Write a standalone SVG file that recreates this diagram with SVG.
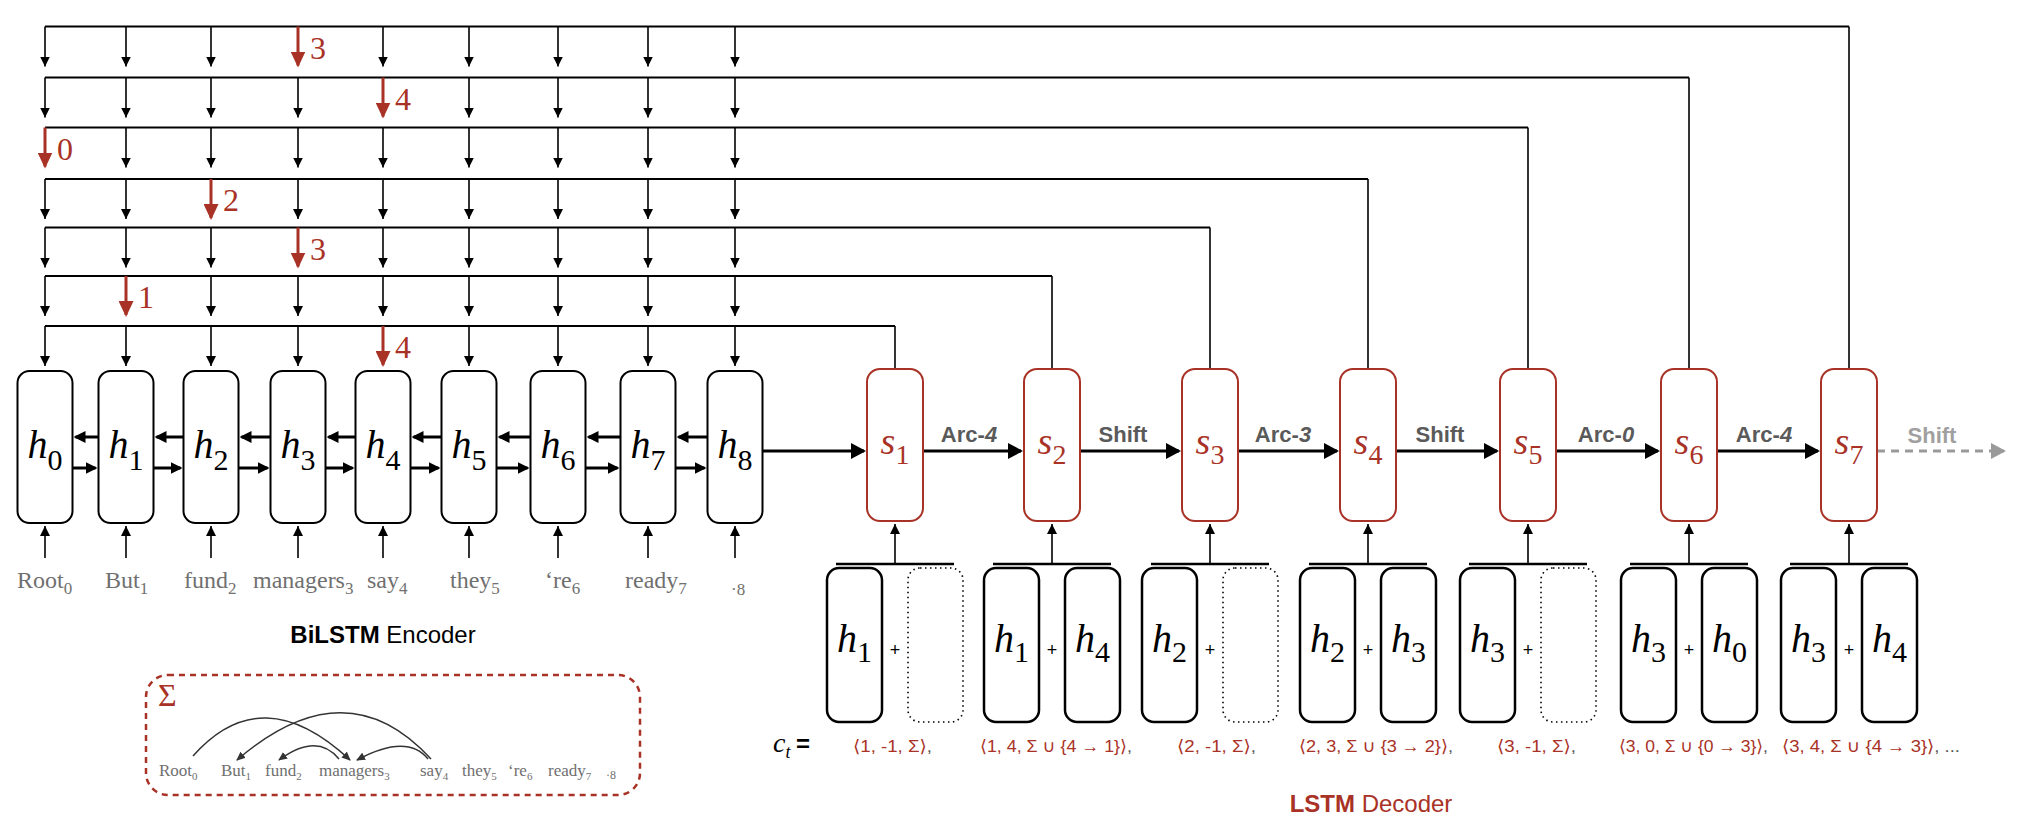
<svg xmlns="http://www.w3.org/2000/svg" width="2028" height="836" viewBox="0 0 2028 836">
<style>
.enc{fill:#fff;stroke:#000;stroke-width:2}
.dec{fill:#fff;stroke:#A93226;stroke-width:2}
.inp{fill:#fff;stroke:#000;stroke-width:2.5}
.dotb{fill:none;stroke:#000;stroke-width:1.6;stroke-dasharray:1.5 3.5}
.hl{stroke:#000;stroke-width:2.2;fill:none}
.vl{stroke:#000;stroke-width:1.6;fill:none}
.drop{stroke:#000;stroke-width:1.6;marker-end:url(#mblk)}
.rdrop{stroke:#A93226;stroke-width:3;marker-end:url(#mred)}
.bi{stroke:#000;stroke-width:3;marker-end:url(#mbi)}
.chain{stroke:#000;stroke-width:3;marker-end:url(#mbold)}
.bar{stroke:#000;stroke-width:2.6}
.up{stroke:#000;stroke-width:1.6;marker-end:url(#mblk)}
.arc{stroke:#333;stroke-width:1.5;fill:none;marker-end:url(#marc)}
.hv{font-family:'Liberation Serif',serif;font-style:italic;font-size:40px;fill:#000}
.sv{font-family:'Liberation Serif',serif;font-style:italic;font-size:38px;fill:#A93226}
.sub{font-style:normal;font-size:30px}
.ssub{font-style:normal;font-size:28px}
.rn{font-family:'Liberation Serif',serif;font-size:32px;fill:#A93226}
.w{font-family:'Liberation Serif',serif;font-size:24px;fill:#707070}
.wsub{font-size:17px}
.sw{font-family:'Liberation Serif',serif;font-size:17px;fill:#707070}
.swsub{font-size:11px}
.act{font-family:'Liberation Sans',Arial,sans-serif;font-weight:bold;font-size:22px;fill:#5a5a5a;text-anchor:middle}
.plus{font-family:'Liberation Sans',Arial,sans-serif;font-size:18px;fill:#000;text-anchor:middle}
.tup{font-family:'Liberation Sans','DejaVu Sans',sans-serif;font-size:17px;fill:#A93226}
.gc{fill:#555}
.ttl{font-family:'Liberation Sans',Arial,sans-serif;font-size:24px;text-anchor:middle}
</style>
<defs>
<marker id="mblk" markerUnits="userSpaceOnUse" markerWidth="10" markerHeight="10" refX="10" refY="5" orient="auto"><path d="M0,0 L10,5 L0,10 z" fill="#000"/></marker>
<marker id="mred" markerUnits="userSpaceOnUse" markerWidth="16" markerHeight="15" refX="14" refY="7.5" orient="auto"><path d="M0,0 L16,7.5 L0,15 z" fill="#A93226"/></marker>
<marker id="mbold" markerUnits="userSpaceOnUse" markerWidth="15" markerHeight="16" refX="13" refY="8" orient="auto"><path d="M0,0 L15,8 L0,16 z" fill="#000"/></marker>
<marker id="mbi" markerUnits="userSpaceOnUse" markerWidth="12" markerHeight="12" refX="10" refY="6" orient="auto"><path d="M0,0 L12,6 L0,12 z" fill="#000"/></marker>
<marker id="mgray" markerUnits="userSpaceOnUse" markerWidth="15" markerHeight="16" refX="13" refY="8" orient="auto"><path d="M0,0 L15,8 L0,16 z" fill="#9a9a9a"/></marker>
<marker id="marc" markerUnits="userSpaceOnUse" markerWidth="9" markerHeight="8" refX="8" refY="4" orient="auto"><path d="M0,0 L9,4 L0,8 z" fill="#333"/></marker>
</defs>
<rect width="2028" height="836" fill="#fff"/>

<g id="connectors">
<g id="row0">
<path class="hl" d="M45,26.5 H1849"/><path class="vl" d="M1849,26.5 V369"/>
<line class="drop" x1="45" y1="26.5" x2="45" y2="66.5"/><line class="drop" x1="126" y1="26.5" x2="126" y2="66.5"/><line class="drop" x1="211" y1="26.5" x2="211" y2="66.5"/><line class="rdrop" x1="298" y1="26.5" x2="298" y2="65.5"/><line class="drop" x1="383" y1="26.5" x2="383" y2="66.5"/><line class="drop" x1="469" y1="26.5" x2="469" y2="66.5"/><line class="drop" x1="558" y1="26.5" x2="558" y2="66.5"/><line class="drop" x1="648" y1="26.5" x2="648" y2="66.5"/><line class="drop" x1="735" y1="26.5" x2="735" y2="66.5"/>
<text class="rn" x="310" y="58.5">3</text>
</g>
<g id="row1">
<path class="hl" d="M45,77.5 H1689"/><path class="vl" d="M1689,77.5 V369"/>
<line class="drop" x1="45" y1="77.5" x2="45" y2="117.5"/><line class="drop" x1="126" y1="77.5" x2="126" y2="117.5"/><line class="drop" x1="211" y1="77.5" x2="211" y2="117.5"/><line class="drop" x1="298" y1="77.5" x2="298" y2="117.5"/><line class="rdrop" x1="383" y1="77.5" x2="383" y2="116.5"/><line class="drop" x1="469" y1="77.5" x2="469" y2="117.5"/><line class="drop" x1="558" y1="77.5" x2="558" y2="117.5"/><line class="drop" x1="648" y1="77.5" x2="648" y2="117.5"/><line class="drop" x1="735" y1="77.5" x2="735" y2="117.5"/>
<text class="rn" x="395" y="109.5">4</text>
</g>
<g id="row2">
<path class="hl" d="M45,127.5 H1528"/><path class="vl" d="M1528,127.5 V369"/>
<line class="rdrop" x1="45" y1="127.5" x2="45" y2="166.5"/><line class="drop" x1="126" y1="127.5" x2="126" y2="167.5"/><line class="drop" x1="211" y1="127.5" x2="211" y2="167.5"/><line class="drop" x1="298" y1="127.5" x2="298" y2="167.5"/><line class="drop" x1="383" y1="127.5" x2="383" y2="167.5"/><line class="drop" x1="469" y1="127.5" x2="469" y2="167.5"/><line class="drop" x1="558" y1="127.5" x2="558" y2="167.5"/><line class="drop" x1="648" y1="127.5" x2="648" y2="167.5"/><line class="drop" x1="735" y1="127.5" x2="735" y2="167.5"/>
<text class="rn" x="57" y="159.5">0</text>
</g>
<g id="row3">
<path class="hl" d="M45,179 H1368"/><path class="vl" d="M1368,179 V369"/>
<line class="drop" x1="45" y1="179" x2="45" y2="219"/><line class="drop" x1="126" y1="179" x2="126" y2="219"/><line class="rdrop" x1="211" y1="179" x2="211" y2="218"/><line class="drop" x1="298" y1="179" x2="298" y2="219"/><line class="drop" x1="383" y1="179" x2="383" y2="219"/><line class="drop" x1="469" y1="179" x2="469" y2="219"/><line class="drop" x1="558" y1="179" x2="558" y2="219"/><line class="drop" x1="648" y1="179" x2="648" y2="219"/><line class="drop" x1="735" y1="179" x2="735" y2="219"/>
<text class="rn" x="223" y="211">2</text>
</g>
<g id="row4">
<path class="hl" d="M45,227.5 H1210"/><path class="vl" d="M1210,227.5 V369"/>
<line class="drop" x1="45" y1="227.5" x2="45" y2="267.5"/><line class="drop" x1="126" y1="227.5" x2="126" y2="267.5"/><line class="drop" x1="211" y1="227.5" x2="211" y2="267.5"/><line class="rdrop" x1="298" y1="227.5" x2="298" y2="266.5"/><line class="drop" x1="383" y1="227.5" x2="383" y2="267.5"/><line class="drop" x1="469" y1="227.5" x2="469" y2="267.5"/><line class="drop" x1="558" y1="227.5" x2="558" y2="267.5"/><line class="drop" x1="648" y1="227.5" x2="648" y2="267.5"/><line class="drop" x1="735" y1="227.5" x2="735" y2="267.5"/>
<text class="rn" x="310" y="259.5">3</text>
</g>
<g id="row5">
<path class="hl" d="M45,276 H1052"/><path class="vl" d="M1052,276 V369"/>
<line class="drop" x1="45" y1="276" x2="45" y2="316"/><line class="rdrop" x1="126" y1="276" x2="126" y2="315"/><line class="drop" x1="211" y1="276" x2="211" y2="316"/><line class="drop" x1="298" y1="276" x2="298" y2="316"/><line class="drop" x1="383" y1="276" x2="383" y2="316"/><line class="drop" x1="469" y1="276" x2="469" y2="316"/><line class="drop" x1="558" y1="276" x2="558" y2="316"/><line class="drop" x1="648" y1="276" x2="648" y2="316"/><line class="drop" x1="735" y1="276" x2="735" y2="316"/>
<text class="rn" x="138" y="308">1</text>
</g>
<g id="row6">
<path class="hl" d="M45,326 H895"/><path class="vl" d="M895,326 V369"/>
<line class="drop" x1="45" y1="326" x2="45" y2="366"/><line class="drop" x1="126" y1="326" x2="126" y2="366"/><line class="drop" x1="211" y1="326" x2="211" y2="366"/><line class="drop" x1="298" y1="326" x2="298" y2="366"/><line class="rdrop" x1="383" y1="326" x2="383" y2="365"/><line class="drop" x1="469" y1="326" x2="469" y2="366"/><line class="drop" x1="558" y1="326" x2="558" y2="366"/><line class="drop" x1="648" y1="326" x2="648" y2="366"/><line class="drop" x1="735" y1="326" x2="735" y2="366"/>
<text class="rn" x="395" y="358">4</text>
</g>

<g id="word-inputs">
<line class="up" x1="45" y1="558" x2="45" y2="526"/><line class="up" x1="126" y1="558" x2="126" y2="526"/><line class="up" x1="211" y1="558" x2="211" y2="526"/><line class="up" x1="298" y1="558" x2="298" y2="526"/><line class="up" x1="383" y1="558" x2="383" y2="526"/><line class="up" x1="469" y1="558" x2="469" y2="526"/><line class="up" x1="558" y1="558" x2="558" y2="526"/><line class="up" x1="648" y1="558" x2="648" y2="526"/><line class="up" x1="735" y1="558" x2="735" y2="526"/>
</g>

<g id="bilstm-arrows">
<line class="bi" x1="98.5" y1="437" x2="75.5" y2="437"/><line class="bi" x1="72.5" y1="468" x2="95.5" y2="468"/>
<line class="bi" x1="183.5" y1="437" x2="156.5" y2="437"/><line class="bi" x1="153.5" y1="468" x2="180.5" y2="468"/>
<line class="bi" x1="270.5" y1="437" x2="241.5" y2="437"/><line class="bi" x1="238.5" y1="468" x2="267.5" y2="468"/>
<line class="bi" x1="355.5" y1="437" x2="328.5" y2="437"/><line class="bi" x1="325.5" y1="468" x2="352.5" y2="468"/>
<line class="bi" x1="441.5" y1="437" x2="413.5" y2="437"/><line class="bi" x1="410.5" y1="468" x2="438.5" y2="468"/>
<line class="bi" x1="530.5" y1="437" x2="499.5" y2="437"/><line class="bi" x1="496.5" y1="468" x2="527.5" y2="468"/>
<line class="bi" x1="620.5" y1="437" x2="588.5" y2="437"/><line class="bi" x1="585.5" y1="468" x2="617.5" y2="468"/>
<line class="bi" x1="707.5" y1="437" x2="678.5" y2="437"/><line class="bi" x1="675.5" y1="468" x2="704.5" y2="468"/>
</g>

<g id="decoder-chain">
<line class="chain" x1="762.5" y1="451" x2="864" y2="451"/>
<line class="chain" x1="923" y1="451" x2="1021" y2="451"/>
<line class="chain" x1="1080" y1="451" x2="1179" y2="451"/>
<line class="chain" x1="1238" y1="451" x2="1337" y2="451"/>
<line class="chain" x1="1396" y1="451" x2="1497" y2="451"/>
<line class="chain" x1="1556" y1="451" x2="1658" y2="451"/>
<line class="chain" x1="1717" y1="451" x2="1818" y2="451"/>
<line x1="1877" y1="451" x2="2004" y2="451" stroke="#9a9a9a" stroke-width="3" stroke-dasharray="8 6" marker-end="url(#mgray)"/>
<text class="act" x="969" y="442">Arc-<tspan font-style="italic">4</tspan></text>
<text class="act" x="1123" y="442">Shift</text>
<text class="act" x="1283" y="442">Arc-<tspan font-style="italic">3</tspan></text>
<text class="act" x="1440" y="442">Shift</text>
<text class="act" x="1606" y="442">Arc-<tspan font-style="italic">0</tspan></text>
<text class="act" x="1764" y="442">Arc-<tspan font-style="italic">4</tspan></text>
<text class="act" x="1932" y="443" style="fill:#a0a0a0">Shift</text>
</g>

<g id="decoder-inputs">
<line class="bar" x1="836" y1="564" x2="954" y2="564"/><line class="up" x1="895" y1="563" x2="895" y2="524"/>
<line class="bar" x1="993" y1="564" x2="1111" y2="564"/><line class="up" x1="1052" y1="563" x2="1052" y2="524"/>
<line class="bar" x1="1151" y1="564" x2="1269" y2="564"/><line class="up" x1="1210" y1="563" x2="1210" y2="524"/>
<line class="bar" x1="1309" y1="564" x2="1427" y2="564"/><line class="up" x1="1368" y1="563" x2="1368" y2="524"/>
<line class="bar" x1="1469" y1="564" x2="1587" y2="564"/><line class="up" x1="1528" y1="563" x2="1528" y2="524"/>
<line class="bar" x1="1630" y1="564" x2="1748" y2="564"/><line class="up" x1="1689" y1="563" x2="1689" y2="524"/>
<line class="bar" x1="1790" y1="564" x2="1908" y2="564"/><line class="up" x1="1849" y1="563" x2="1849" y2="524"/>
</g>
</g>

<g id="h0"><rect class="enc" x="17.5" y="371" width="55" height="152" rx="12"/><text class="hv" x="45" y="458" text-anchor="middle">h<tspan class="sub" dy="12">0</tspan></text></g>
<g id="h1"><rect class="enc" x="98.5" y="371" width="55" height="152" rx="12"/><text class="hv" x="126" y="458" text-anchor="middle">h<tspan class="sub" dy="12">1</tspan></text></g>
<g id="h2"><rect class="enc" x="183.5" y="371" width="55" height="152" rx="12"/><text class="hv" x="211" y="458" text-anchor="middle">h<tspan class="sub" dy="12">2</tspan></text></g>
<g id="h3"><rect class="enc" x="270.5" y="371" width="55" height="152" rx="12"/><text class="hv" x="298" y="458" text-anchor="middle">h<tspan class="sub" dy="12">3</tspan></text></g>
<g id="h4"><rect class="enc" x="355.5" y="371" width="55" height="152" rx="12"/><text class="hv" x="383" y="458" text-anchor="middle">h<tspan class="sub" dy="12">4</tspan></text></g>
<g id="h5"><rect class="enc" x="441.5" y="371" width="55" height="152" rx="12"/><text class="hv" x="469" y="458" text-anchor="middle">h<tspan class="sub" dy="12">5</tspan></text></g>
<g id="h6"><rect class="enc" x="530.5" y="371" width="55" height="152" rx="12"/><text class="hv" x="558" y="458" text-anchor="middle">h<tspan class="sub" dy="12">6</tspan></text></g>
<g id="h7"><rect class="enc" x="620.5" y="371" width="55" height="152" rx="12"/><text class="hv" x="648" y="458" text-anchor="middle">h<tspan class="sub" dy="12">7</tspan></text></g>
<g id="h8"><rect class="enc" x="707.5" y="371" width="55" height="152" rx="12"/><text class="hv" x="735" y="458" text-anchor="middle">h<tspan class="sub" dy="12">8</tspan></text></g>

<g id="words">
<text class="w" x="17" y="588">Root<tspan class="wsub" dy="6">0</tspan></text>
<text class="w" x="105" y="588">But<tspan class="wsub" dy="6">1</tspan></text>
<text class="w" x="184" y="588">fund<tspan class="wsub" dy="6">2</tspan></text>
<text class="w" x="253" y="588">managers<tspan class="wsub" dy="6">3</tspan></text>
<text class="w" x="367" y="588">say<tspan class="wsub" dy="6">4</tspan></text>
<text class="w" x="450" y="588">they<tspan class="wsub" dy="6">5</tspan></text>
<text class="w" x="545" y="588">‘re<tspan class="wsub" dy="6">6</tspan></text>
<text class="w" x="625" y="588">ready<tspan class="wsub" dy="6">7</tspan></text>
<text class="w" x="731" y="595" style="font-size:17px">·8</text>
</g>
<g id="encoder-title"><text class="ttl" x="383" y="643"><tspan font-weight="bold">BiLSTM</tspan> Encoder</text></g>

<g id="sigma">
<rect x="146" y="675" width="494" height="120" rx="22" fill="none" stroke="#A93226" stroke-width="2.5" stroke-dasharray="6 5"/>
<text x="158" y="706" style="font-family:'Liberation Serif',serif;font-size:32px;fill:#A93226">Σ</text>
<text class="sw" x="159" y="776">Root<tspan class="swsub" dy="4">0</tspan></text>
<text class="sw" x="221" y="776">But<tspan class="swsub" dy="4">1</tspan></text>
<text class="sw" x="265" y="776">fund<tspan class="swsub" dy="4">2</tspan></text>
<text class="sw" x="319" y="776">managers<tspan class="swsub" dy="4">3</tspan></text>
<text class="sw" x="420" y="776">say<tspan class="swsub" dy="4">4</tspan></text>
<text class="sw" x="462" y="776">they<tspan class="swsub" dy="4">5</tspan></text>
<text class="sw" x="508" y="776">‘re<tspan class="swsub" dy="4">6</tspan></text>
<text class="sw" x="548" y="776">ready<tspan class="swsub" dy="4">7</tspan></text>
<text class="sw" x="606" y="779" style="font-size:12px">·8</text>
<path class="arc" d="M193,756 Q262,678 350,760"/>
<path class="arc" d="M431,759 Q346,666 237,760"/>
<path class="arc" d="M339,759 Q317,732 279,760"/>
<path class="arc" d="M428,759 Q407,733 357,760"/>
</g>

<g id="s1"><rect class="dec" x="867" y="369" width="56" height="152" rx="13"/><text class="sv" x="895" y="454" text-anchor="middle">s<tspan class="ssub" dy="10">1</tspan></text></g>
<g id="s2"><rect class="dec" x="1024" y="369" width="56" height="152" rx="13"/><text class="sv" x="1052" y="454" text-anchor="middle">s<tspan class="ssub" dy="10">2</tspan></text></g>
<g id="s3"><rect class="dec" x="1182" y="369" width="56" height="152" rx="13"/><text class="sv" x="1210" y="454" text-anchor="middle">s<tspan class="ssub" dy="10">3</tspan></text></g>
<g id="s4"><rect class="dec" x="1340" y="369" width="56" height="152" rx="13"/><text class="sv" x="1368" y="454" text-anchor="middle">s<tspan class="ssub" dy="10">4</tspan></text></g>
<g id="s5"><rect class="dec" x="1500" y="369" width="56" height="152" rx="13"/><text class="sv" x="1528" y="454" text-anchor="middle">s<tspan class="ssub" dy="10">5</tspan></text></g>
<g id="s6"><rect class="dec" x="1661" y="369" width="56" height="152" rx="13"/><text class="sv" x="1689" y="454" text-anchor="middle">s<tspan class="ssub" dy="10">6</tspan></text></g>
<g id="s7"><rect class="dec" x="1821" y="369" width="56" height="152" rx="13"/><text class="sv" x="1849" y="454" text-anchor="middle">s<tspan class="ssub" dy="10">7</tspan></text></g>

<g id="c1">
<rect class="inp" x="827" y="568" width="55" height="154" rx="12"/><text class="hv" x="854.5" y="652" text-anchor="middle">h<tspan class="sub" dy="10">1</tspan></text>
<text class="plus" x="895" y="656">+</text>
<rect class="dotb" x="908" y="568" width="55" height="154" rx="12"/>
</g>
<g id="c2">
<rect class="inp" x="984" y="568" width="55" height="154" rx="12"/><text class="hv" x="1011.5" y="652" text-anchor="middle">h<tspan class="sub" dy="10">1</tspan></text>
<text class="plus" x="1052" y="656">+</text>
<rect class="inp" x="1065" y="568" width="55" height="154" rx="12"/><text class="hv" x="1092.5" y="652" text-anchor="middle">h<tspan class="sub" dy="10">4</tspan></text>
</g>
<g id="c3">
<rect class="inp" x="1142" y="568" width="55" height="154" rx="12"/><text class="hv" x="1169.5" y="652" text-anchor="middle">h<tspan class="sub" dy="10">2</tspan></text>
<text class="plus" x="1210" y="656">+</text>
<rect class="dotb" x="1223" y="568" width="55" height="154" rx="12"/>
</g>
<g id="c4">
<rect class="inp" x="1300" y="568" width="55" height="154" rx="12"/><text class="hv" x="1327.5" y="652" text-anchor="middle">h<tspan class="sub" dy="10">2</tspan></text>
<text class="plus" x="1368" y="656">+</text>
<rect class="inp" x="1381" y="568" width="55" height="154" rx="12"/><text class="hv" x="1408.5" y="652" text-anchor="middle">h<tspan class="sub" dy="10">3</tspan></text>
</g>
<g id="c5">
<rect class="inp" x="1460" y="568" width="55" height="154" rx="12"/><text class="hv" x="1487.5" y="652" text-anchor="middle">h<tspan class="sub" dy="10">3</tspan></text>
<text class="plus" x="1528" y="656">+</text>
<rect class="dotb" x="1541" y="568" width="55" height="154" rx="12"/>
</g>
<g id="c6">
<rect class="inp" x="1621" y="568" width="55" height="154" rx="12"/><text class="hv" x="1648.5" y="652" text-anchor="middle">h<tspan class="sub" dy="10">3</tspan></text>
<text class="plus" x="1689" y="656">+</text>
<rect class="inp" x="1702" y="568" width="55" height="154" rx="12"/><text class="hv" x="1729.5" y="652" text-anchor="middle">h<tspan class="sub" dy="10">0</tspan></text>
</g>
<g id="c7">
<rect class="inp" x="1781" y="568" width="55" height="154" rx="12"/><text class="hv" x="1808.5" y="652" text-anchor="middle">h<tspan class="sub" dy="10">3</tspan></text>
<text class="plus" x="1849" y="656">+</text>
<rect class="inp" x="1862" y="568" width="55" height="154" rx="12"/><text class="hv" x="1889.5" y="652" text-anchor="middle">h<tspan class="sub" dy="10">4</tspan></text>
</g>

<g id="ct-labels">
<text x="773" y="752" style="font-family:'Liberation Serif',serif;font-style:italic;font-size:28px">c<tspan dy="6" font-size="18">t</tspan></text>
<text x="796" y="752" style="font-family:'Liberation Sans',Arial,sans-serif;font-weight:bold;font-size:24px">=</text>
<text class="tup" x="853" y="752" textLength="79" lengthAdjust="spacingAndGlyphs">⟨1, -1, Σ⟩<tspan class="gc">,</tspan></text>
<text class="tup" x="980" y="752" textLength="152" lengthAdjust="spacingAndGlyphs">⟨1, 4, Σ ∪ {4 → 1}⟩<tspan class="gc">,</tspan></text>
<text class="tup" x="1177" y="752" textLength="79" lengthAdjust="spacingAndGlyphs">⟨2, -1, Σ⟩<tspan class="gc">,</tspan></text>
<text class="tup" x="1299" y="752" textLength="154" lengthAdjust="spacingAndGlyphs">⟨2, 3, Σ ∪ {3 → 2}⟩<tspan class="gc">,</tspan></text>
<text class="tup" x="1497" y="752" textLength="79" lengthAdjust="spacingAndGlyphs">⟨3, -1, Σ⟩<tspan class="gc">,</tspan></text>
<text class="tup" x="1619" y="752" textLength="149" lengthAdjust="spacingAndGlyphs">⟨3, 0, Σ ∪ {0 → 3}⟩<tspan class="gc">,</tspan></text>
<text class="tup" x="1782" y="752" textLength="178" lengthAdjust="spacingAndGlyphs">⟨3, 4, Σ ∪ {4 → 3}⟩<tspan class="gc">, ...</tspan></text>
</g>
<g id="decoder-title"><text class="ttl" x="1371" y="812" fill="#A93226"><tspan font-weight="bold">LSTM</tspan> Decoder</text></g>
</svg>
